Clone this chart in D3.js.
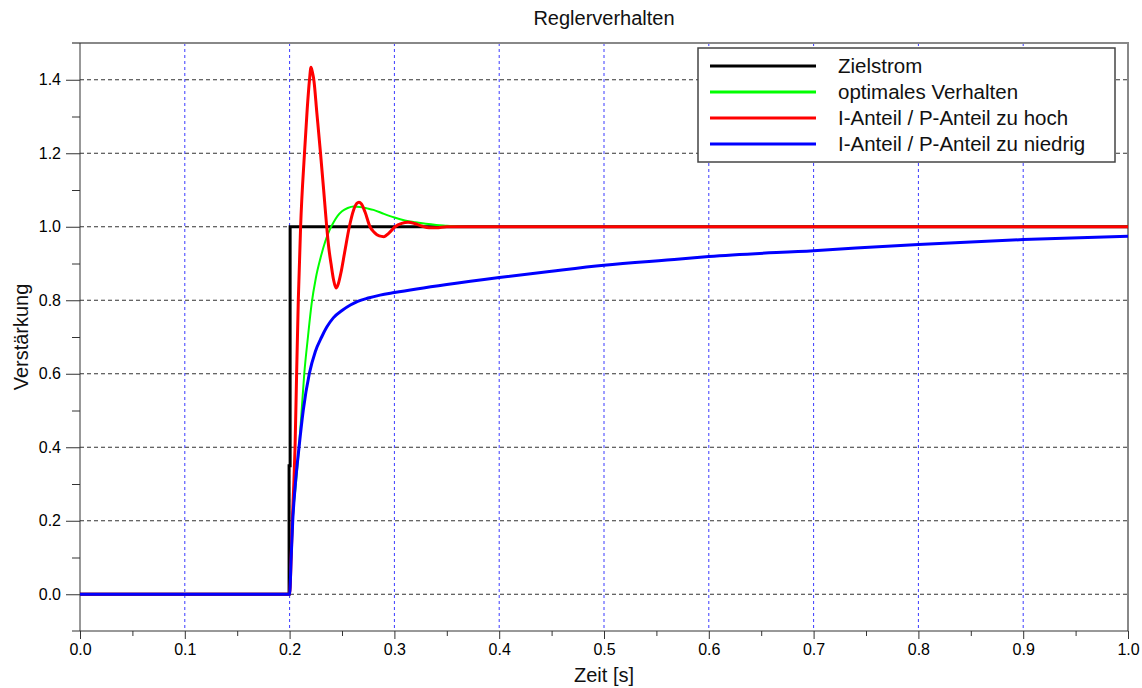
<!DOCTYPE html>
<html>
<head>
<meta charset="utf-8">
<script src="https://cdn.jsdelivr.net/npm/d3@7"></script>
<style>
  body { margin: 0; background: #fff; }
  svg { display: block; font-family: "Liberation Sans", Arial, sans-serif; }
</style>
</head>
<body>
<div class="graph"></div>
<script>
// tick values
const xTicks = [0, 0.1, 0.2, 0.3, 0.4, 0.5, 0.6, 0.7, 0.8, 0.9, 1.0];
const xMinorTicks = [0.05, 0.15, 0.25, 0.35, 0.45, 0.55, 0.65, 0.75, 0.85, 0.95];
const yTicks = [0, 0.2, 0.4, 0.6, 0.8, 1.0, 1.2, 1.4];
const yMinorTicks = [0.1, 0.3, 0.5, 0.7, 0.9, 1.1, 1.3];

// series
const zielT = [0, 0.1995, 0.1995, 0.2005, 0.2005, 1.0];
const zielV = [0, 0, 0.35, 0.35, 1.0, 1.0];

const optT = [0, 0.2, 0.2015, 0.203, 0.206, 0.209, 0.2115, 0.214, 0.2175, 0.221, 0.225, 0.2295, 0.234,
  0.238, 0.242, 0.246, 0.25, 0.2555, 0.261, 0.267, 0.274, 0.28, 0.29, 0.30, 0.31, 0.32, 0.33, 0.34, 0.35, 0.36, 0.38, 1.0];
const optV = [0, 0, 0.1, 0.2, 0.3, 0.4, 0.5, 0.6, 0.7, 0.79, 0.86, 0.915, 0.96,
  0.99, 1.012, 1.03, 1.042, 1.051, 1.055, 1.054, 1.05, 1.046, 1.035, 1.025, 1.017, 1.012, 1.008, 1.005, 1.003, 1.001, 1.0, 1.0];

const hochT = [0, 0.2, 0.2015, 0.2026, 0.204, 0.2052, 0.2067, 0.2083, 0.2105, 0.2142, 0.2168, 0.219,
  0.2204, 0.2218, 0.2231, 0.226, 0.2295, 0.2325, 0.2354, 0.2375, 0.2395, 0.242, 0.2443, 0.2465, 0.249,
  0.2525, 0.257, 0.261, 0.2642, 0.2662, 0.2685, 0.272, 0.2767, 0.281, 0.2855, 0.290, 0.2945, 0.3006,
  0.307, 0.313, 0.319, 0.326, 0.333, 0.34, 0.35, 1.0];
const hochV = [0, 0, 0.1, 0.2, 0.3, 0.4, 0.6, 0.8, 1.0, 1.2, 1.32, 1.40,
  1.434, 1.42, 1.40, 1.31, 1.2, 1.1, 1.0, 0.94, 0.9, 0.855, 0.833, 0.845, 0.875,
  0.93, 1.0, 1.045, 1.064, 1.067, 1.062, 1.04, 1.0, 0.984, 0.975, 0.973, 0.982, 1.0,
  1.009, 1.012, 1.009, 1.002, 0.997, 0.997, 1.0, 1.0];

const niedrigT = [0, 0.2, 0.2015, 0.203, 0.2055, 0.209, 0.213, 0.2188, 0.2245, 0.2306, 0.2355, 0.2417,
  0.25, 0.258, 0.265, 0.275, 0.2863, 0.3, 0.35, 0.4, 0.45, 0.5, 0.5725, 0.6, 0.7, 0.8, 0.9, 1.0];
const niedrigV = [0, 0, 0.1, 0.2, 0.3, 0.4, 0.5, 0.6, 0.66, 0.7, 0.727, 0.752,
  0.772, 0.787, 0.797, 0.806, 0.814, 0.821, 0.843, 0.862, 0.879, 0.895, 0.912, 0.919, 0.935, 0.952, 0.965, 0.974];

const seriesNames = ["Zielstrom", "optimales Verhalten", "I-Anteil / P-Anteil zu hoch", "I-Anteil / P-Anteil zu niedrig"];
const seriesColours = ["#000000", "#00ff00", "#ff0000", "#0000ff"];

// dimensions
const W = 1142, H = 688;
const margin = { top: 43, right: 14, bottom: 57, left: 80 };
const width = W - margin.left - margin.right;
const height = H - margin.top - margin.bottom;

const svg = d3.select(".graph").append("svg")
  .attr("width", W)
  .attr("height", H);

const x = d3.scaleLinear().domain([0, 1]).range([margin.left, margin.left + width]);
const y = d3.scaleLinear().domain([-0.1, 1.5]).range([margin.top + height, margin.top]);

// grid
svg.append("g").selectAll("line")
  .data(yTicks)
  .enter().append("line")
  .attr("x1", x(0)).attr("x2", x(1))
  .attr("y1", d => y(d)).attr("y2", d => y(d))
  .attr("stroke", "#333").attr("stroke-width", 1)
  .attr("stroke-dasharray", "4,3");

svg.append("g").selectAll("line")
  .data(xTicks.slice(1, -1))
  .enter().append("line")
  .attr("x1", d => x(d)).attr("x2", d => x(d))
  .attr("y1", y(1.5)).attr("y2", y(-0.1))
  .attr("stroke", "#3a3aff").attr("stroke-width", 1)
  .attr("stroke-dasharray", "3,3");

// frame top / right
svg.append("line")
  .attr("x1", x(0) - 8).attr("x2", x(1) + 1)
  .attr("y1", y(1.5)).attr("y2", y(1.5))
  .attr("stroke", "#888").attr("stroke-width", 2);
svg.append("line")
  .attr("x1", x(1)).attr("x2", x(1))
  .attr("y1", y(1.5)).attr("y2", y(-0.1))
  .attr("stroke", "#888").attr("stroke-width", 2);

// axes
const yAxis = svg.append("g")
  .attr("transform", "translate(" + x(0) + ",0)")
  .call(d3.axisLeft(y).tickValues(yTicks).tickSize(14).tickPadding(5)
    .tickFormat(d3.format(".1f")).tickSizeOuter(0));
const yMinor = svg.append("g")
  .attr("transform", "translate(" + x(0) + ",0)")
  .call(d3.axisLeft(y).tickValues(yMinorTicks).tickSize(8).tickFormat(""));

const xAxis = svg.append("g")
  .attr("transform", "translate(0," + y(-0.1) + ")")
  .call(d3.axisBottom(x).tickValues(xTicks).tickSize(8).tickPadding(5)
    .tickFormat(d3.format(".1f")).tickSizeOuter(0));
const xMinor = svg.append("g")
  .attr("transform", "translate(0," + y(-0.1) + ")")
  .call(d3.axisBottom(x).tickValues(xMinorTicks).tickSize(5).tickFormat(""));

[yAxis, yMinor, xAxis, xMinor].forEach(a => {
  a.select(".domain").remove();
  a.selectAll(".tick line").attr("stroke", "#333");
  a.selectAll("text").attr("font-size", 16).attr("fill", "#000")
    .attr("font-family", "'Liberation Sans', Arial, sans-serif");
});

svg.append("line")
  .attr("x1", x(0)).attr("x2", x(0))
  .attr("y1", y(1.5)).attr("y2", y(-0.1))
  .attr("stroke", "#333").attr("stroke-width", 1);
svg.append("line")
  .attr("x1", x(0) - 8).attr("x2", x(1))
  .attr("y1", y(-0.1)).attr("y2", y(-0.1))
  .attr("stroke", "#333").attr("stroke-width", 1);

// curves
svg.append("clipPath").attr("id", "clip")
  .append("rect")
  .attr("x", x(0)).attr("y", y(1.5))
  .attr("width", width).attr("height", height);

const line = d3.line()
  .x(d => x(d[0]))
  .y(d => y(d[1]))
  .curve(d3.curveMonotoneX);

const zielLine = d3.line().x(d => x(d[0])).y(d => y(d[1]));

const curves = svg.append("g").attr("clip-path", "url(#clip)");

curves.append("path")
  .datum(d3.zip(zielT, zielV))
  .attr("d", zielLine)
  .attr("fill", "none").attr("stroke", seriesColours[0]).attr("stroke-width", 3);

[[optT, optV, 1, 2], [hochT, hochV, 2, 3], [niedrigT, niedrigV, 3, 3]].forEach(s => {
  curves.append("path")
    .datum(d3.zip(s[0], s[1]))
    .attr("d", line)
    .attr("fill", "none")
    .attr("stroke", seriesColours[s[2]])
    .attr("stroke-width", s[3])
    .attr("stroke-linejoin", "round");
});

// legend
const legend = svg.append("g");
legend.append("rect")
  .attr("x", 698).attr("y", 48)
  .attr("width", 417).attr("height", 114)
  .attr("fill", "#fff").attr("stroke", "#444").attr("stroke-width", 1.5);

seriesNames.forEach((name, i) => {
  const ly = 66 + i * 26;
  legend.append("line")
    .attr("x1", 710).attr("x2", 816)
    .attr("y1", ly).attr("y2", ly)
    .attr("stroke", seriesColours[i]).attr("stroke-width", 3);
  legend.append("text")
    .attr("x", 838).attr("y", ly + 7)
    .attr("font-size", 20.5).attr("fill", "#111")
    .text(name);
});

// labels
svg.append("text")
  .attr("x", (x(0) + x(1)) / 2).attr("y", 25)
  .attr("text-anchor", "middle")
  .attr("font-size", 20).attr("fill", "#111")
  .text("Reglerverhalten");

svg.append("text")
  .attr("x", (x(0) + x(1)) / 2).attr("y", 682)
  .attr("text-anchor", "middle")
  .attr("font-size", 20).attr("fill", "#111")
  .text("Zeit [s]");

svg.append("text")
  .attr("transform", "translate(28," + ((y(1.5) + y(-0.1)) / 2) + ") rotate(-90)")
  .attr("text-anchor", "middle")
  .attr("font-size", 20).attr("fill", "#111")
  .text("Verstärkung");
</script>
</body>
</html>
